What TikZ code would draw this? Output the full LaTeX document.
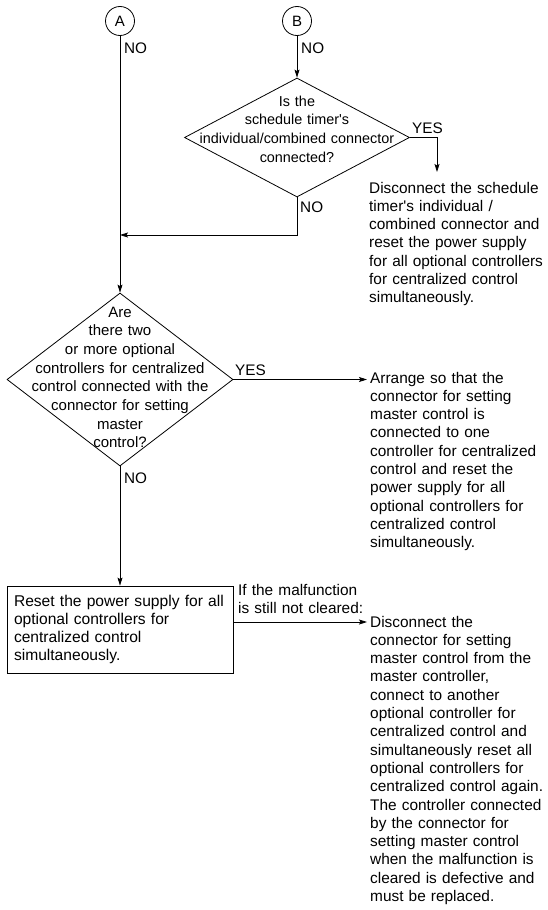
\documentclass[tikz,border=0pt]{standalone}
\usepackage{fontspec}
\setmainfont{Liberation Sans}
\usetikzlibrary{shapes.geometric,arrows.meta}
\newcommand{\apos}{\textquotesingle}
\begin{document}
\begin{tikzpicture}[x=1pt,y=-1pt,
  line/.style={line width=0.8pt},
  arr/.style={line width=0.8pt,-{Stealth[length=8pt,width=5pt,inset=1.5pt]}},
  lbl/.style={font=\fontsize{15.3}{18.3}\selectfont, inner sep=0pt, anchor=base west},
  txt/.style={font=\fontsize{15.4}{18.3}\selectfont, inner sep=0pt, anchor=base west, text width=185pt, align=left},
  conn/.style={circle,draw,line width=0.8pt,minimum size=29pt,inner sep=0pt,font=\fontsize{15}{18}\selectfont},
  dia/.style={diamond,draw,line width=0.8pt,inner sep=0pt},
  diatxt/.style={inner sep=0pt, anchor=base, align=center, text width=210pt},
]
\useasboundingbox (0,0) rectangle (547,910);

% connectors (circles)
\node[conn] (A) at (120,21) {A};
\node[conn] (B) at (297,21) {B};
\node[lbl] (noA) at (124,53) {NO};
\node[lbl] (noB) at (301,53) {NO};

% diamond 1
\node[dia,minimum width=225pt,minimum height=119pt] (D1) at (297,137.5) {};
\node[diatxt,font=\fontsize{14.4}{18.7}\selectfont] (D1t) at (297,106)
  {Is the\\schedule timer\apos s\\individual/combined connector\\connected?};
\node[lbl] (yes1) at (412,133) {YES};
\node[lbl] (no1) at (300,212) {NO};
\node[txt] (T1) at (369,193) {Disconnect the schedule\\timer\apos s individual /\\combined connector and\\reset the power supply\\for all optional controllers\\for centralized control\\simultaneously.};

% diamond 2
\node[dia,minimum width=226pt,minimum height=173pt] (D2) at (120,379.5) {};
\node[diatxt,font=\fontsize{15}{18.7}\selectfont] (D2t) at (120,317)
  {Are\\there two\\or more optional\\controllers for centralized\\control connected with the\\connector for setting\\master\\control?};
\node[lbl] (yes2) at (235,375) {YES};
\node[lbl] (no2) at (124,483) {NO};
\node[txt] (T2) at (370,383) {Arrange so that the\\connector for setting\\master control is\\connected to one\\controller for centralized\\control and reset the\\power supply for all\\optional controllers for\\centralized control\\simultaneously.};

% rectangle
\node[draw,line width=0.8pt,minimum width=226pt,minimum height=87pt,text width=212pt,inner sep=0pt,align=left,font=\fontsize{15.6}{18.3}\selectfont] (R) at (120,629.5)
  {Reset the power supply for all\\optional controllers for\\centralized control\\simultaneously.};
\node[txt,text width=140pt] (mal) at (238,595) {If the malfunction\\is still not cleared:};
\node[txt] (T3) at (370,627) {Disconnect the\\connector for setting\\master control from the\\master controller,\\connect to another\\optional controller for\\centralized control and\\simultaneously reset all\\optional controllers for\\centralized control again.\\The controller connected\\by the connector for\\setting master control\\when the malfunction is\\cleared is defective and\\must be replaced.};

% arrows
\coordinate (y1) at (437,172);
\coordinate (n1) at (120,235);
\coordinate (y2) at (367,378);
\coordinate (m) at (367,622);
\draw[arr] (A) -- (D2.north);
\draw[arr] (B) -- (D1.north);
\draw[arr] (D1.east) -| (y1);
\draw[arr] (D1.south) |- (n1);
\draw[arr] (D2.east) -- (D2.east -| y2);
\draw[arr] (D2.south) -- (R.north);
\draw[arr] (R.east |- m) -- (m);
\end{tikzpicture}
\end{document}
